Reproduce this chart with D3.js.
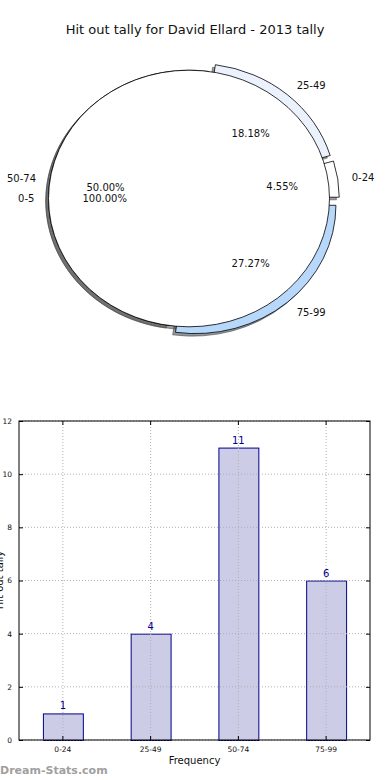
<!DOCTYPE html>
<html>
<head>
<meta charset="utf-8">
<script src="https://cdn.jsdelivr.net/npm/d3@7"></script>
<style>
  html, body { margin: 0; padding: 0; background: #fff; }
  svg { display: block; font-family: "DejaVu Sans", sans-serif; }
</style>
</head>
<body>
<svg id="chart" width="390" height="780"></svg>
<script>
// ---- data ----
const title = "Hit out tally for David Ellard - 2013 tally";
const pieCategories = ["0-24", "25-49", "50-74", "75-99"];
const pieValues = [1, 4, 11, 6];
const pieColors = ["#ffffff", "#ebf2fd", "#ffffff", "#b8d8fb"];
const pieExplode = [0.07, 0.07, 0, 0.07];
const pie2Categories = ["0-5"];
const pie2Values = [1];
const barCategories = ["0-24", "25-49", "50-74", "75-99"];
const barValues = [1, 4, 11, 6];
const yTicks = [0, 2, 4, 6, 8, 10, 12];
const xLabel = "Frequency";
const yLabel = "Hit out tally";
const watermark = "Dream-Stats.com";

const svg = d3.select("#chart");

// ---- title ----
svg.append("text").attr("x", 195).attr("y", 34).attr("text-anchor", "middle")
  .attr("font-size", 13).attr("fill", "#111").text(title);

// ---- pie (elliptical, matplotlib-like: start at 3 o'clock, counterclockwise) ----
const cx = 189, cy = 198.5, rx = 140.5, ry = 128.3;
const pieGen = d3.pie().sort(null).startAngle(Math.PI / 2).endAngle(Math.PI / 2 - 2 * Math.PI);
const arcs1 = pieGen(pieValues);
const arcs2 = pieGen(pie2Values);
const arcGen = d3.arc().innerRadius(0).outerRadius(1);
const pieG = svg.append("g").attr("transform", `translate(${cx},${cy}) scale(${rx},${ry})`);
const mid = d => (d.startAngle + d.endAngle) / 2;
const fmtPct = d3.format(".2f");

function shade(c) {
  const col = d3.rgb(c);
  return `rgba(${Math.round(col.r * 0.3)},${Math.round(col.g * 0.3)},${Math.round(col.b * 0.3)},0.55)`;
}
// shadows first
const allPie = arcs1.map((d, i) => ({ d, e: pieExplode[i], c: pieColors[i] }))
  .concat(arcs2.map(d => ({ d, e: 0, c: "#ffffff" })));
pieG.selectAll("path.shadow").data(allPie).join("path").attr("class", "shadow")
  .attr("d", o => arcGen(o.d))
  .attr("transform", o => `translate(${o.e * Math.sin(mid(o.d)) - 0.02},${-o.e * Math.cos(mid(o.d)) + 0.02})`)
  .attr("fill", o => shade(o.c)).attr("stroke", o => shade(o.c))
  .attr("stroke-width", 1).attr("vector-effect", "non-scaling-stroke");
pieG.selectAll("path.wedge").data(allPie).join("path").attr("class", "wedge")
  .attr("d", o => arcGen(o.d))
  .attr("transform", o => `translate(${o.e * Math.sin(mid(o.d))},${-o.e * Math.cos(mid(o.d))})`)
  .attr("fill", o => o.c).attr("stroke", "#000")
  .attr("stroke-width", 0.8).attr("vector-effect", "non-scaling-stroke");

// labels
function addPieText(arcs, cats, vals, explode) {
  const tot = d3.sum(vals);
  arcs.forEach((d, i) => {
    const a = mid(d), e = explode[i];
    const sx = Math.sin(a), sy = Math.cos(a);
    const lx = cx + (1.1 + e) * rx * sx, ly = cy - (1.1 + e) * ry * sy;
    svg.append("text").attr("x", lx).attr("y", ly).attr("dy", "0.36em")
      .attr("text-anchor", sx > 0 ? "start" : "end")
      .attr("font-size", 10).attr("fill", "#111").text(cats[i]);
    const px = cx + (0.6 + e) * rx * sx, py = cy - (0.6 + e) * ry * sy;
    svg.append("text").attr("x", px).attr("y", py).attr("dy", "0.36em")
      .attr("text-anchor", "middle").attr("font-size", 10).attr("fill", "#111")
      .text(fmtPct(vals[i] / tot * 100) + "%");
  });
}
addPieText(arcs1, pieCategories, pieValues, pieExplode);
addPieText(arcs2, pie2Categories, pie2Values, [0]);

// ---- bar chart ----
const L = 19, R = 370, T = 421, B = 740;
const x = d3.scaleBand().domain(barCategories).range([L, R]).paddingInner(0.545).paddingOuter(0.2725);
const y = d3.scaleLinear().domain([0, 12]).range([B, T]);
const bar = svg.append("g");

// bars
bar.selectAll("rect.b").data(barValues).join("rect").attr("class", "b")
  .attr("x", (d, i) => x(barCategories[i]) + 0.5).attr("width", x.bandwidth())
  .attr("y", d => y(d) + 0.5).attr("height", d => y(0) - y(d))
  .attr("fill", "#cccce6").attr("stroke", "#00008b").attr("stroke-width", 1);
// grid (drawn above bars, as in the reference)
bar.selectAll("line.vg").data(barCategories).join("line").attr("class", "vg")
  .attr("x1", d => x(d) + x.bandwidth() / 2).attr("x2", d => x(d) + x.bandwidth() / 2)
  .attr("y1", T).attr("y2", B)
  .attr("stroke", "#b0b0b0").attr("stroke-dasharray", "1,2");
bar.selectAll("line.hg").data(yTicks).join("line").attr("class", "hg")
  .attr("x1", L).attr("x2", R).attr("y1", d => y(d)).attr("y2", d => y(d))
  .attr("stroke", "#b0b0b0").attr("stroke-dasharray", "1,2");

// value labels
bar.selectAll("text.v").data(barValues).join("text").attr("class", "v")
  .attr("x", (d, i) => x(barCategories[i]) + x.bandwidth() / 2)
  .attr("y", d => y(d) - 4).attr("text-anchor", "middle")
  .attr("font-size", 10).attr("fill", "#00008b").text(d => d);

// frame
bar.append("rect").attr("x", L).attr("y", T).attr("width", R - L).attr("height", B - T)
  .attr("fill", "none").attr("stroke", "#000").attr("stroke-width", 1);

// axes (ticks inward)
const yAxL = d3.axisLeft(y).tickValues(yTicks).tickSize(-4).tickPadding(7).tickFormat(d3.format("d"));
const gy = bar.append("g").attr("transform", `translate(${L},0)`).call(yAxL);
const yAxR = d3.axisRight(y).tickValues(yTicks).tickSize(-4).tickFormat("");
const gyr = bar.append("g").attr("transform", `translate(${R},0)`).call(yAxR);
const xAxB = d3.axisBottom(x).tickSize(-4).tickPadding(7);
const gx = bar.append("g").attr("transform", `translate(0,${B})`).call(xAxB);
const xAxT = d3.axisTop(x).tickSize(-4).tickFormat("");
const gxt = bar.append("g").attr("transform", `translate(0,${T})`).call(xAxT);
[gy, gyr, gx, gxt].forEach(g => {
  g.select(".domain").remove();
  g.selectAll("text").attr("font-size", 7.5).attr("fill", "#111").attr("font-family", "DejaVu Sans");
  g.selectAll("line").attr("stroke", "#000");
});

// axis labels
svg.append("text").attr("x", (L + R) / 2).attr("y", 764).attr("text-anchor", "middle")
  .attr("font-size", 10).attr("fill", "#111").text(xLabel);
svg.append("text").attr("transform", "translate(3,580) rotate(-90)").attr("text-anchor", "middle")
  .attr("font-size", 10).attr("fill", "#111").text(yLabel);

// watermark
svg.append("text").attr("x", 0).attr("y", 774).attr("font-size", 11).attr("font-weight", "bold")
  .attr("fill", "#a0a0a0").text(watermark);
</script>
</body>
</html>
